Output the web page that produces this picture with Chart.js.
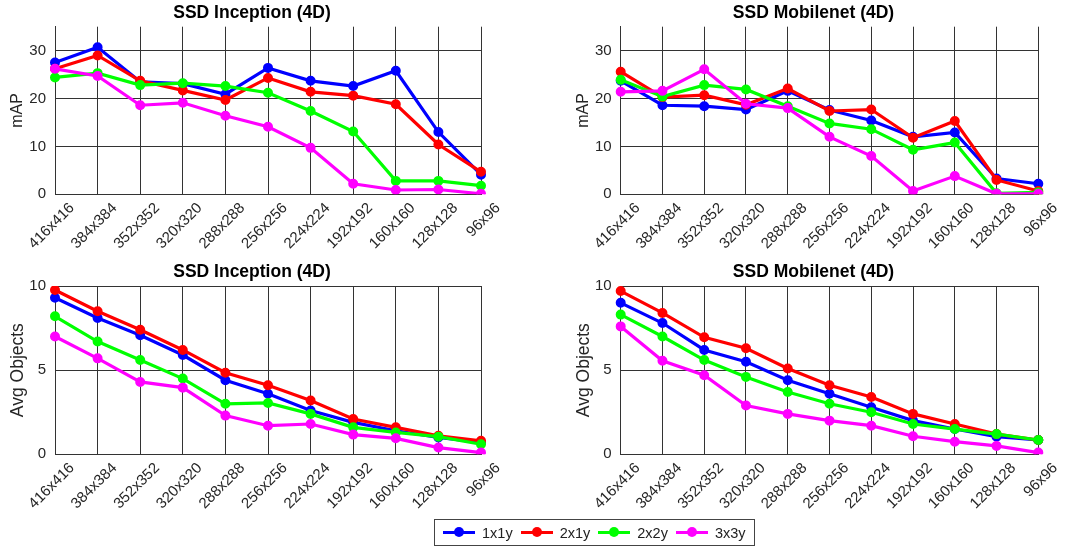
<!DOCTYPE html>
<html>
<head>
<meta charset="utf-8">
<script src="https://cdn.jsdelivr.net/npm/chart.js@4.4.1/dist/chart.umd.min.js"></script>
<style>
    body { margin: 0; background: #fff; width: 1070px; height: 550px; position: relative; overflow: hidden;
           font-family: 'Liberation Sans', Arial, sans-serif; }
    canvas { position: absolute; }
    #legend { position: absolute; left: 434px; top: 519px; width: 321px; height: 27px; box-sizing: border-box;
              border: 1px solid #444; display: flex; align-items: center; padding-left: 8px;
              font-size: 14.5px; color: #222; z-index: 2; }
    #legend .item { display: flex; align-items: center; margin-right: 8px; }
    #legend .swatch { position: relative; width: 32px; height: 3px; margin-right: 7px; }
    #legend .swatch span { position: absolute; left: 11px; top: -4px; width: 10px; height: 10px; border-radius: 50%; }
</style>
</head>
<body>
<canvas id="incMap" width="535" height="260" style="left:0;top:0"></canvas>
<canvas id="mobMap" width="535" height="260" style="left:535px;top:0"></canvas>
<canvas id="incObj" width="535" height="290" style="left:0;top:260px"></canvas>
<canvas id="mobObj" width="535" height="290" style="left:535px;top:260px"></canvas>
<div id="legend"></div>

<script>
// Data:
var sizes = ['416x416', '384x384', '352x352', '320x320', '288x288', '256x256',
             '224x224', '192x192', '160x160', '128x128', '96x96'];
var seriesNames = ['1x1y', '2x1y', '2x2y', '3x3y'];

// mAP, SSD Inception
var incMap1x1y = [27.5, 30.7, 23.5, 23.1, 20.9, 26.4, 23.7, 22.6, 25.8, 13.0, 4.1];
var incMap2x1y = [26.2, 29.0, 23.7, 21.7, 19.7, 24.3, 21.4, 20.6, 18.8, 10.4, 4.7];
var incMap2x2y = [24.4, 25.3, 22.8, 23.2, 22.6, 21.2, 17.4, 13.1, 2.8, 2.8, 1.8];
var incMap3x3y = [26.2, 24.7, 18.6, 19.1, 16.4, 14.1, 9.7, 2.2, 0.9, 1.0, 0.1];

// mAP, SSD Mobilenet
var mobMap1x1y = [23.7, 18.6, 18.4, 17.7, 21.6, 17.6, 15.4, 12.0, 12.9, 3.3, 2.2];
var mobMap2x1y = [25.6, 20.3, 20.7, 18.7, 22.1, 17.4, 17.7, 11.8, 15.3, 3.0, 0.7];
var mobMap2x2y = [23.9, 20.4, 22.8, 21.9, 18.4, 14.8, 13.6, 9.3, 10.8, 0.2, 0.4];
var mobMap3x3y = [21.4, 21.6, 26.1, 18.9, 18.0, 12.0, 8.0, 0.7, 3.8, 0.1, 0.1];

// Avg objects, SSD Inception
var incObj1x1y = [9.3, 8.1, 7.07, 5.9, 4.4, 3.6, 2.6, 1.9, 1.4, 1.0, 0.7];
var incObj2x1y = [9.76, 8.5, 7.4, 6.2, 4.85, 4.1, 3.2, 2.1, 1.6, 1.1, 0.8];
var incObj2x2y = [8.2, 6.7, 5.6, 4.5, 3.0, 3.05, 2.4, 1.6, 1.3, 1.05, 0.6];
var incObj3x3y = [7.0, 5.7, 4.3, 3.96, 2.3, 1.7, 1.8, 1.17, 0.95, 0.4, 0.1];

// Avg objects, SSD Mobilenet
var mobObj1x1y = [9.0, 7.8, 6.2, 5.5, 4.4, 3.6, 2.8, 2.0, 1.5, 1.05, 0.85];
var mobObj2x1y = [9.7, 8.4, 6.95, 6.3, 5.1, 4.1, 3.4, 2.4, 1.8, 1.2, 0.85];
var mobObj2x2y = [8.3, 7.0, 5.6, 4.6, 3.7, 3.0, 2.5, 1.8, 1.5, 1.2, 0.85];
var mobObj3x3y = [7.6, 5.56, 4.7, 2.9, 2.4, 2.0, 1.7, 1.07, 0.75, 0.5, 0.1];

// Style:
var seriesColors = ['#0000ff', '#ff0000', '#00ff00', '#ff00ff'];
var fontFamily = "'Liberation Sans', Arial, sans-serif";
var gridColor = '#333333';
var tickColor = '#262626';

Chart.defaults.font.family = fontFamily;

/**
 * Draws the panel title above the plot area.
 */
var panelTitle = {
    id: 'panelTitle',
    afterDraw: function (chart, args, opts) {
        var ctx = chart.ctx;
        var area = chart.chartArea;
        ctx.save();
        ctx.font = 'bold 17.5px ' + fontFamily;
        ctx.fillStyle = '#000';
        ctx.textAlign = 'center';
        ctx.textBaseline = 'middle';
        ctx.fillText(opts.text, (area.left + area.right) / 2 - 16, opts.y);
        ctx.restore();
    }
};

/**
 * Creates one line chart panel.
 */
function makeChart(id, title, titleY, yLabel, yLabelSize, yMax, yStep, seriesData, pad) {
    var datasets = [];
    for (var i = 0; i < seriesData.length; i++) {
        datasets.push({
            label: seriesNames[i],
            data: seriesData[i],
            borderColor: seriesColors[i],
            backgroundColor: seriesColors[i],
            borderWidth: 3.2,
            pointRadius: 4,
            pointBorderWidth: 2,
            tension: 0,
            order: seriesData.length - i
        });
    }

    return new Chart(document.getElementById(id), {
        type: 'line',
        data: { labels: sizes, datasets: datasets },
        options: {
            responsive: false,
            animation: false,
            layout: { padding: pad },
            plugins: {
                legend: { display: false },
                tooltip: { enabled: false },
                panelTitle: { text: title, y: titleY }
            },
            scales: {
                x: {
                    offset: false,
                    grid: { color: gridColor, drawTicks: false },
                    border: { color: gridColor },
                    ticks: { minRotation: 45, maxRotation: 45, autoSkip: false, labelOffset: 17,
                             padding: 5, color: tickColor, font: { size: 15 } },
                    afterFit: function (scale) {
                        scale.height = 65.7;
                        scale.paddingLeft = 0;
                        scale.paddingRight = 0;
                    }
                },
                y: {
                    min: 0,
                    max: yMax,
                    grid: { color: gridColor, drawTicks: false },
                    border: { color: gridColor },
                    ticks: { stepSize: yStep, padding: 9, color: tickColor, font: { size: 15 } },
                    title: { display: true, text: yLabel, color: tickColor, font: { size: yLabelSize },
                             padding: { top: 8, bottom: 0 } },
                    afterBuildTicks: function (scale) {
                        scale.ticks = scale.ticks.filter(function (t) { return t.value % yStep === 0; });
                    },
                    afterFit: function (scale) {
                        scale.width = 55;
                        scale.paddingTop = 0;
                        scale.paddingBottom = 0;
                    }
                }
            }
        },
        plugins: [panelTitle]
    });
}

makeChart('incMap', 'SSD Inception (4D)', 13, 'mAP', 16, 35, 10,
          [incMap1x1y, incMap2x1y, incMap2x2y, incMap3x3y],
          { top: 26.7, left: 0, right: 54, bottom: 0 });
makeChart('mobMap', 'SSD Mobilenet (4D)', 13, 'mAP', 16, 35, 10,
          [mobMap1x1y, mobMap2x1y, mobMap2x2y, mobMap3x3y],
          { top: 26.7, left: 30.7, right: 31.7, bottom: 0 });
makeChart('incObj', 'SSD Inception (4D)', 12, 'Avg Objects', 17.5, 10, 5,
          [incObj1x1y, incObj2x1y, incObj2x2y, incObj3x3y],
          { top: 26, left: 0, right: 54, bottom: 30 });
makeChart('mobObj', 'SSD Mobilenet (4D)', 12, 'Avg Objects', 17.5, 10, 5,
          [mobObj1x1y, mobObj2x1y, mobObj2x2y, mobObj3x3y],
          { top: 26, left: 30.7, right: 31.7, bottom: 30 });

// Shared legend
var legend = document.getElementById('legend');
for (var i = 0; i < seriesNames.length; i++) {
    var item = document.createElement('span');
    item.className = 'item';
    item.innerHTML = '<span class="swatch" style="background:' + seriesColors[i] + '">' +
                     '<span style="background:' + seriesColors[i] + '"></span></span>' + seriesNames[i];
    legend.appendChild(item);
}
</script>
</body>
</html>
